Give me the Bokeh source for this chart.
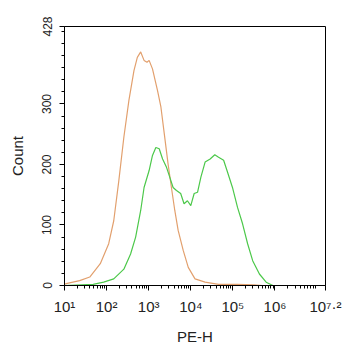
import numpy as np
from bokeh.plotting import figure
from bokeh.models import Range1d, FixedTicker, CustomJSTickFormatter
from bokeh.embed import file_html
from bokeh.resources import INLINE

# Isotype control (orange) - log10(PE-H) and counts
iso_exp = [1.0, 1.04, 1.36, 1.6, 1.85, 2.05, 2.17, 2.29, 2.41, 2.53, 2.65, 2.73, 2.81, 2.89,
           2.96, 3.01, 3.09, 3.21, 3.29, 3.37, 3.46, 3.54, 3.62, 3.70, 3.82, 3.94, 4.10, 4.34,
           4.66, 5.1, 5.5, 5.7]
iso_cnt = [2, 3, 8, 14, 36, 69, 107, 173, 245, 306, 355, 377, 386, 372, 369, 372, 358, 322,
           295, 251, 201, 162, 124, 91, 58, 30, 11, 5.5, 2, 2, 1, 0]

# Stained sample (green)
pos_exp = [1.0, 1.68, 1.93, 2.17, 2.41, 2.57, 2.69, 2.81, 2.89, 3.01, 3.09, 3.17, 3.25, 3.33,
           3.42, 3.50, 3.58, 3.66, 3.76, 3.84, 3.92, 4.00, 4.08, 4.16, 4.24, 4.34, 4.46, 4.57,
           4.66, 4.78, 4.86, 4.99, 5.11, 5.23, 5.35, 5.47, 5.63, 5.79, 5.95]
pos_cnt = [0, 2, 5.5, 11, 27, 52, 80, 124, 162, 190, 215, 228, 226, 209, 196, 179, 162, 157,
           152, 135, 140, 132, 152, 154, 179, 204, 209, 216, 212, 207, 190, 162, 129, 102, 69,
           41, 19, 5.5, 0]

x_major_exp = [1, 2, 3, 4, 5, 6, 7.2]
y_major = [0, 100, 200, 300, 428]

p = figure(x_axis_type="log", frame_width=261, frame_height=259,
           min_border_left=64, min_border_right=17, min_border_top=26, min_border_bottom=58,
           x_range=Range1d(10, 10 ** 7.2), y_range=Range1d(0, 428),
           output_backend="svg", toolbar_location=None)

p.line(10 ** np.array(iso_exp), iso_cnt, line_color="#E2A06E", line_width=1.2)
p.line(10 ** np.array(pos_exp), pos_cnt, line_color="#4CC84A", line_width=1.2)

x_minor = [m * 10 ** k for k in range(1, 8) for m in range(2, 10) if m * 10 ** k < 10 ** 7.2]
p.xaxis.ticker = FixedTicker(ticks=[10 ** e for e in x_major_exp], minor_ticks=x_minor)
p.xaxis.formatter = CustomJSTickFormatter(code="""
const e = Math.round(Math.log10(tick) * 10) / 10;
const sup = {'0':'\u2070','1':'\u00b9','2':'\u00b2','3':'\u00b3','4':'\u2074','5':'\u2075',
             '6':'\u2076','7':'\u2077','8':'\u2078','9':'\u2079','.':'\u00b7'};
const s = String(e).split('').map(c => sup[c]).join('');
return '10' + s;
""")
y_minor = [v for v in range(20, 428, 20) if v not in y_major]
p.yaxis.ticker = FixedTicker(ticks=y_major, minor_ticks=y_minor)
p.yaxis.major_label_orientation = "vertical"

p.xaxis.axis_label = "PE-H"
p.yaxis.axis_label = "Count"

for ax in (p.xaxis[0], p.yaxis[0]):
    ax.axis_label_text_font = "Liberation Sans"
    ax.axis_label_text_font_style = "normal"
    ax.axis_label_text_font_size = "15px"
    ax.axis_label_text_color = "#222222"
    ax.major_label_text_font = "Liberation Sans"
    ax.major_label_text_color = "#222222"
    ax.axis_line_color = "black"
    ax.major_tick_line_color = "black"
    ax.minor_tick_line_color = "black"
    ax.major_tick_in = 0
    ax.major_tick_out = 5
    ax.minor_tick_in = 0
    ax.minor_tick_out = 3

p.xaxis.major_label_text_font_size = "15px"
p.yaxis.major_label_text_font_size = "12px"
p.xaxis.major_label_standoff = 7
p.yaxis.major_label_standoff = 8
p.xaxis.axis_label_standoff = 10
p.yaxis.axis_label_standoff = 14

p.xgrid.visible = False
p.ygrid.visible = False
p.outline_line_color = "black"
p.outline_line_alpha = 1
p.background_fill_color = "white"
p.border_fill_color = "white"

open("out.html", "w").write(file_html(p, INLINE))
